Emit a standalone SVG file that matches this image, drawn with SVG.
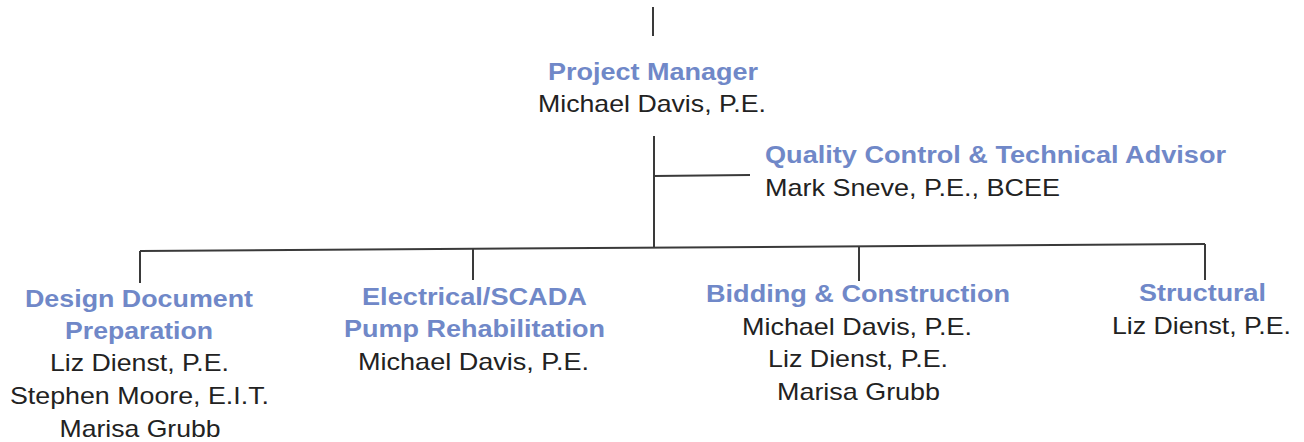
<svg xmlns="http://www.w3.org/2000/svg" width="1304" height="442" viewBox="0 0 1304 442">
<style>
text{font-family:"Liberation Sans",Arial,sans-serif;font-size:24px}
.t{fill:#7088c8;font-weight:bold;text-anchor:middle}
.n{fill:#222;text-anchor:middle}
.l{text-anchor:start}
.c{stroke:#3a3a3a;stroke-width:2;fill:none}
</style>
<rect width="1304" height="442" fill="#fff"/>
<g id="connectors">
<line class="c" x1="653" y1="7" x2="653" y2="36"/>
<line class="c" x1="654" y1="136" x2="654" y2="248"/>
<line class="c" x1="654" y1="176" x2="750" y2="175"/>
<line class="c" x1="140" y1="251" x2="1205" y2="244"/>
<line class="c" x1="140" y1="251" x2="140" y2="283"/>
<line class="c" x1="473" y1="249" x2="473" y2="280"/>
<line class="c" x1="859" y1="246" x2="859" y2="281"/>
<line class="c" x1="1205" y1="244" x2="1205" y2="280"/>
</g>
<g id="project-manager">
<text class="t" x="653" y="80" textLength="210" lengthAdjust="spacingAndGlyphs">Project Manager</text>
<text class="n" x="652" y="112" textLength="228" lengthAdjust="spacingAndGlyphs">Michael Davis, P.E.</text>
</g>
<g id="qc-advisor">
<text class="t l" x="765" y="163" textLength="461" lengthAdjust="spacingAndGlyphs">Quality Control &amp; Technical Advisor</text>
<text class="n l" x="765" y="196" textLength="295" lengthAdjust="spacingAndGlyphs">Mark Sneve, P.E., BCEE</text>
</g>
<g id="design-document">
<text class="t" x="139" y="307" textLength="228" lengthAdjust="spacingAndGlyphs">Design Document</text>
<text class="t" x="139" y="339" textLength="148" lengthAdjust="spacingAndGlyphs">Preparation</text>
<text class="n" x="139.5" y="371" textLength="179" lengthAdjust="spacingAndGlyphs">Liz Dienst, P.E.</text>
<text class="n" x="139.5" y="404" textLength="259" lengthAdjust="spacingAndGlyphs">Stephen Moore, E.I.T.</text>
<text class="n" x="140" y="437" textLength="161" lengthAdjust="spacingAndGlyphs">Marisa Grubb</text>
</g>
<g id="electrical-scada">
<text class="t" x="474.5" y="305" textLength="225" lengthAdjust="spacingAndGlyphs">Electrical/SCADA</text>
<text class="t" x="474.5" y="337" textLength="261" lengthAdjust="spacingAndGlyphs">Pump Rehabilitation</text>
<text class="n" x="473.5" y="370" textLength="231" lengthAdjust="spacingAndGlyphs">Michael Davis, P.E.</text>
</g>
<g id="bidding-construction">
<text class="t" x="858" y="302" textLength="304" lengthAdjust="spacingAndGlyphs">Bidding &amp; Construction</text>
<text class="n" x="857" y="335" textLength="230" lengthAdjust="spacingAndGlyphs">Michael Davis, P.E.</text>
<text class="n" x="858" y="367" textLength="180" lengthAdjust="spacingAndGlyphs">Liz Dienst, P.E.</text>
<text class="n" x="858.5" y="400" textLength="163" lengthAdjust="spacingAndGlyphs">Marisa Grubb</text>
</g>
<g id="structural">
<text class="t" x="1202.5" y="301" textLength="127" lengthAdjust="spacingAndGlyphs">Structural</text>
<text class="n" x="1201.5" y="334" textLength="179" lengthAdjust="spacingAndGlyphs">Liz Dienst, P.E.</text>
</g>
</svg>
